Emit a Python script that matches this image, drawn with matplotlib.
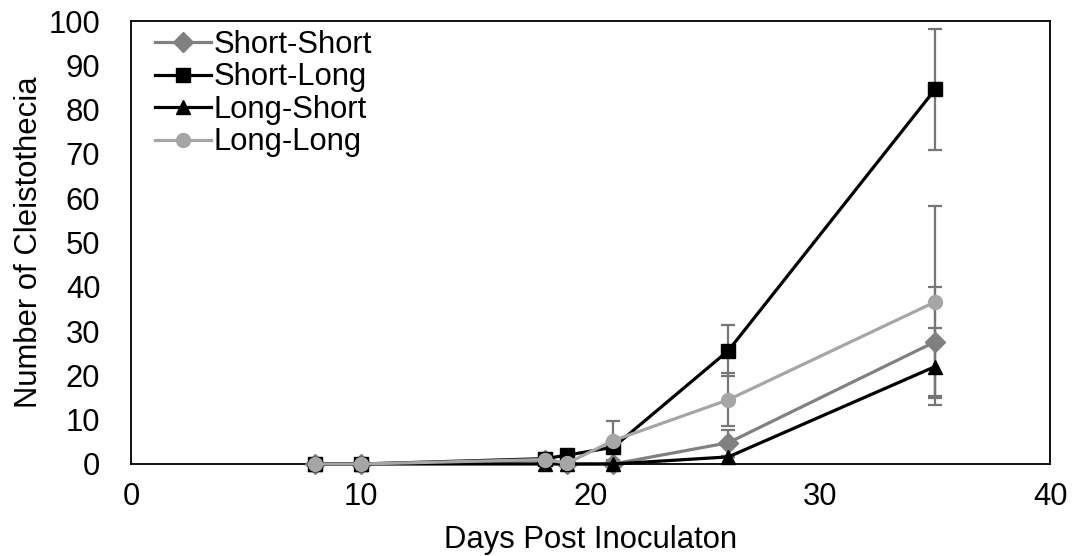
import matplotlib
matplotlib.use("Agg")
import matplotlib.pyplot as plt

# Sampling days and mean cleistothecia counts per light regime
days = [8, 10, 18, 19, 21, 26, 35]

short_short = [0, 0, 0.8, 0, 0, 4.8, 27.6]
short_short_err = [0, 0, 0, 0, 0, 2.9, 12.3]

short_long = [0, 0, 1.2, 2.0, 3.8, 25.6, 84.6]
short_long_err = [0, 0, 0, 0, 0, 5.7, 13.7]

long_short = [0, 0, 0, 0, 0, 1.6, 22.0]
long_short_err = [0, 0, 0, 0, 0, 0, 8.7]

long_long = [0, 0, 1.0, 0.2, 5.3, 14.5, 36.6]
long_long_err = [0, 0, 0, 0, 4.3, 6.0, 21.7]

x_ticks = [0, 10, 20, 30, 40]
y_ticks = [0, 10, 20, 30, 40, 50, 60, 70, 80, 90, 100]

plt.rcParams['font.family'] = ['Liberation Sans', 'DejaVu Sans']
FS = 22.3

fig = plt.figure(figsize=(10.73, 5.56), dpi=100)
ax = fig.add_axes([0.122, 0.1655, 0.8566, 0.7965])

series = [
    ("Short-Short", short_short, short_short_err, "#808080", "D", 10),
    ("Short-Long", short_long, short_long_err, "#000000", "s", 10),
    ("Long-Short", long_short, long_short_err, "#000000", "^", 10),
    ("Long-Long", long_long, long_long_err, "#A6A6A6", "o", 10),
]

# error bars underneath the lines
for name, vals, err, col, mk, ms in series:
    ax.errorbar(days, vals, yerr=err, fmt="none", ecolor="#767676",
                elinewidth=1.6, capsize=5, capthick=1.6, zorder=2, clip_on=False)

for i, (name, vals, err, col, mk, ms) in enumerate(series):
    ax.plot(days, vals, color=col, lw=2.3, marker=mk, markersize=ms,
            markerfacecolor=col, markeredgecolor=col, label=name,
            zorder=3 + i, clip_on=False)

ax.set_xlim(0, 40)
ax.set_ylim(0, 100)
ax.set_xticks(x_ticks)
ax.set_yticks(y_ticks)
ax.tick_params(axis="both", length=0, labelsize=FS)
ax.tick_params(axis="x", pad=13)
ax.tick_params(axis="y", pad=22)
for sp in ax.spines.values():
    sp.set_color("black")
    sp.set_linewidth(1.3)

ax.set_xlabel("Days Post Inoculaton", fontsize=FS, labelpad=9)
ax.set_ylabel("Number of Cleistothecia", fontsize=FS, labelpad=3)

ax.legend(loc="upper left", bbox_to_anchor=(0.006, 1.022), frameon=False,
          fontsize=FS, handlelength=1.8, handletextpad=0.08,
          labelspacing=0.08, borderaxespad=0.2)

fig.savefig("out.png", dpi=100)
